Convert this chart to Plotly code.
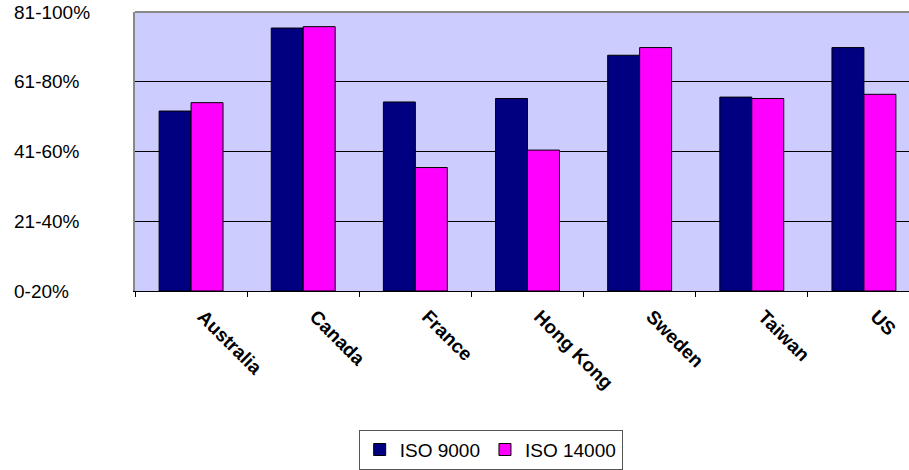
import plotly.graph_objects as go

# Survey results by country, coded on a 0..4 band scale
countries = ["Australia", "Canada", "France", "Hong Kong", "Sweden", "Taiwan", "US"]
iso_9000 = [2.58, 3.77, 2.71, 2.76, 3.38, 2.78, 3.49]
iso_14000 = [2.70, 3.79, 1.77, 2.02, 3.49, 2.76, 2.82]
band_labels = ["0-20%", "21-40%", "41-60%", "61-80%", "81-100%"]
band_positions = [0, 1, 2, 3, 4]

FONT = "Arial, Liberation Sans, sans-serif"

fig = go.Figure()
fig.add_trace(go.Bar(
    name="ISO 9000", x=countries, y=iso_9000,
    marker=dict(color="#000080", line=dict(color="black", width=1)),
))
fig.add_trace(go.Bar(
    name="ISO 14000", x=countries, y=iso_14000,
    marker=dict(color="#FF00FF", line=dict(color="black", width=1)),
))

# Left-aligned band labels for the value axis
for pos, lab in zip(band_positions, band_labels):
    fig.add_annotation(
        x=-0.159, xref="paper", xanchor="left",
        y=pos, yref="y", yanchor="middle",
        text=lab, showarrow=False,
        font=dict(family=FONT, size=19, color="black"),
    )

# Grey top border of the plotting area
fig.add_shape(type="line", xref="paper", yref="paper",
              x0=0, x1=1, y0=1, y1=1,
              line=dict(color="#888888", width=2))

fig.update_layout(
    width=909, height=470,
    margin=dict(l=135, r=0, t=12, b=179, autoexpand=False),
    paper_bgcolor="white",
    plot_bgcolor="#CCCCFF",
    barmode="group",
    bargap=0.43,
    bargroupgap=0,
    font=dict(family=FONT, size=19, color="black"),
    showlegend=True,
    legend=dict(
        orientation="h",
        x=0.289, xanchor="left",
        y=-0.497, yanchor="top",
        bordercolor="#555555", borderwidth=1,
        font=dict(family=FONT, size=19, color="black"),
        traceorder="normal",
        itemwidth=30,
    ),
    xaxis=dict(
        range=[-0.5, 6.402],
        automargin=False,
        tickangle=45,
        tickson="boundaries",
        ticks="outside", ticklen=5, tickcolor="black",
        showline=True, linecolor="black", linewidth=1,
        showgrid=False,
        tickfont=dict(family=FONT, size=19, color="black", weight="bold"),
        ticklabelstandoff=6,
        ticklabelshift=12,
    ),
    yaxis=dict(
        range=[0, 4],
        automargin=False,
        tickvals=[1, 2, 3],
        showticklabels=False,
        showgrid=True, gridcolor="black", gridwidth=1,
        showline=True, linecolor="#888888", linewidth=2,
        zeroline=False,
        ticks="",
    ),
)

fig.write_html("out.html")
